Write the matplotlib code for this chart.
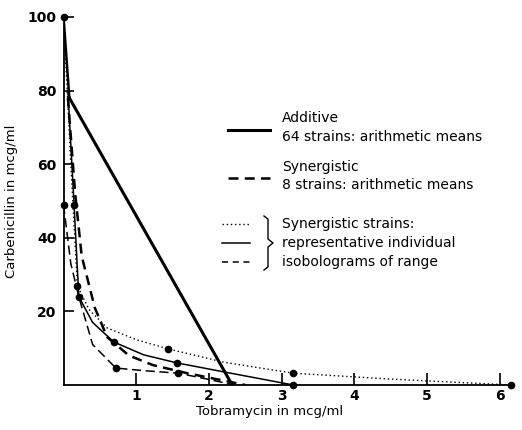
import matplotlib.pyplot as plt
from matplotlib.lines import Line2D

plt.rcParams['font.family'] = ['DejaVu Sans']

# additive isobologram, 64 strains (means)
add_x = [0.08, 2.32]
add_y = [78, 0]

# synergistic, 8 strains (means)
syn_x = [0.06, 0.16, 0.25, 0.43, 0.6, 0.9, 1.23, 1.7, 2.1, 2.5]
syn_y = [78, 52, 35, 21, 13, 8, 5.4, 3.2, 1.6, 0]

# representative individual strains
dot_x = [0, 0.1, 0.19, 0.35, 0.6, 1.0, 1.44, 2.2, 3.16, 4.5, 6.15]
dot_y = [100, 60, 27, 20.5, 15.5, 12.3, 9.8, 6.2, 3.2, 1.6, 0]
dot_mx = [0, 0.19, 1.44, 3.16, 6.15]
dot_my = [100, 27, 9.8, 3.2, 0]

sol_x = [0.06, 0.145, 0.21, 0.4, 0.69, 1.1, 1.56, 2.3, 3.16]
sol_y = [80, 49, 24, 17, 11.7, 8.2, 6.0, 3.2, 0]
sol_mx = [0.145, 0.69, 1.56, 3.16]
sol_my = [49, 11.7, 6.0, 0]

das_x = [0, 0.1, 0.21, 0.4, 0.72, 1.1, 1.58, 2.0, 2.35]
das_y = [49, 33, 24, 11, 4.6, 3.9, 3.2, 1.5, 0]
das_mx = [0, 0.21, 0.72, 1.58]
das_my = [49, 24, 4.6, 3.2]

fig = plt.figure(figsize=(5.22, 4.3), dpi=100)
ax = fig.add_axes([0.1217, 0.1047, 0.8635, 0.856])

ax.plot([0, 0.08], [100, 78], color='black', lw=1.8)
ax.plot(add_x, add_y, color='black', lw=2.2)
ax.plot(syn_x, syn_y, color='black', lw=1.8, dashes=(4, 2.5))
ax.plot(dot_x, dot_y, color='black', lw=1.0, ls=(0, (1, 2)))
ax.plot(sol_x, sol_y, color='black', lw=1.1)
ax.plot(das_x, das_y, color='black', lw=1.1, dashes=(6, 3))

ax.plot(dot_mx, dot_my, 'o', color='black', ms=4.5, clip_on=False)
ax.plot(sol_mx, sol_my, 'o', color='black', ms=4.5, clip_on=False)
ax.plot(das_mx, das_my, 'o', color='black', ms=4.5, clip_on=False)

ax.set_xlim(0, 6.2)
ax.set_ylim(0, 100)
ax.set_xticks([1, 2, 3, 4, 5, 6])
ax.set_yticks([20, 40, 60, 80, 100])
ax.tick_params(direction='in', length=9, width=1.2, labelsize=10, pad=3)
ax.tick_params(axis='y', length=7, pad=5)
for lab in ax.get_xticklabels() + ax.get_yticklabels():
    lab.set_fontweight('bold')
for s in ['top', 'right']:
    ax.spines[s].set_visible(False)
for s in ['left', 'bottom']:
    ax.spines[s].set_linewidth(1.3)

ax.set_xlabel('Tobramycin in mcg/ml', fontsize=9.5)
ax.set_ylabel('Carbenicillin in mcg/ml', fontsize=9.5)
ax.xaxis.set_label_coords(0.458, -0.054)
ax.yaxis.set_label_coords(-0.101, 0.5)

# legend drawn by hand
tr = fig.transFigure
def px(x, y):
    return x / 522, 1 - y / 430

def seg(x0, x1, y, **kw):
    a, b = px(x0, y)
    c, _ = px(x1, y)
    fig.add_artist(Line2D([a, c], [b, b], transform=tr, color='black', **kw))

def txt(x, y, s):
    a, b = px(x, y)
    fig.text(a, b, s, fontsize=10, va='center', ha='left')

seg(228, 270, 130, lw=2.2)
txt(282, 118, 'Additive')
txt(282, 137, '64 strains: arithmetic means')
seg(228, 270, 178, lw=1.8, dashes=(4, 2.5))
txt(282, 167, 'Synergistic')
txt(282, 185, '8 strains: arithmetic means')
seg(222, 250, 224, lw=1.0, ls=(0, (1, 2)))
seg(222, 250, 243, lw=1.1)
seg(222, 250, 262, lw=1.1, dashes=(4, 3))
txt(282, 224, 'Synergistic strains:')
txt(282, 243, 'representative individual')
txt(282, 262, 'isobolograms of range')

# brace
bx = [264, 268, 268, 273, 268, 268, 264]
by = [216, 219, 239, 243, 247, 267, 270]
pts = [px(x, y) for x, y in zip(bx, by)]
fig.add_artist(Line2D([p[0] for p in pts], [p[1] for p in pts], transform=tr,
                      color='black', lw=1.0))

fig.savefig('out.png', dpi=100)
